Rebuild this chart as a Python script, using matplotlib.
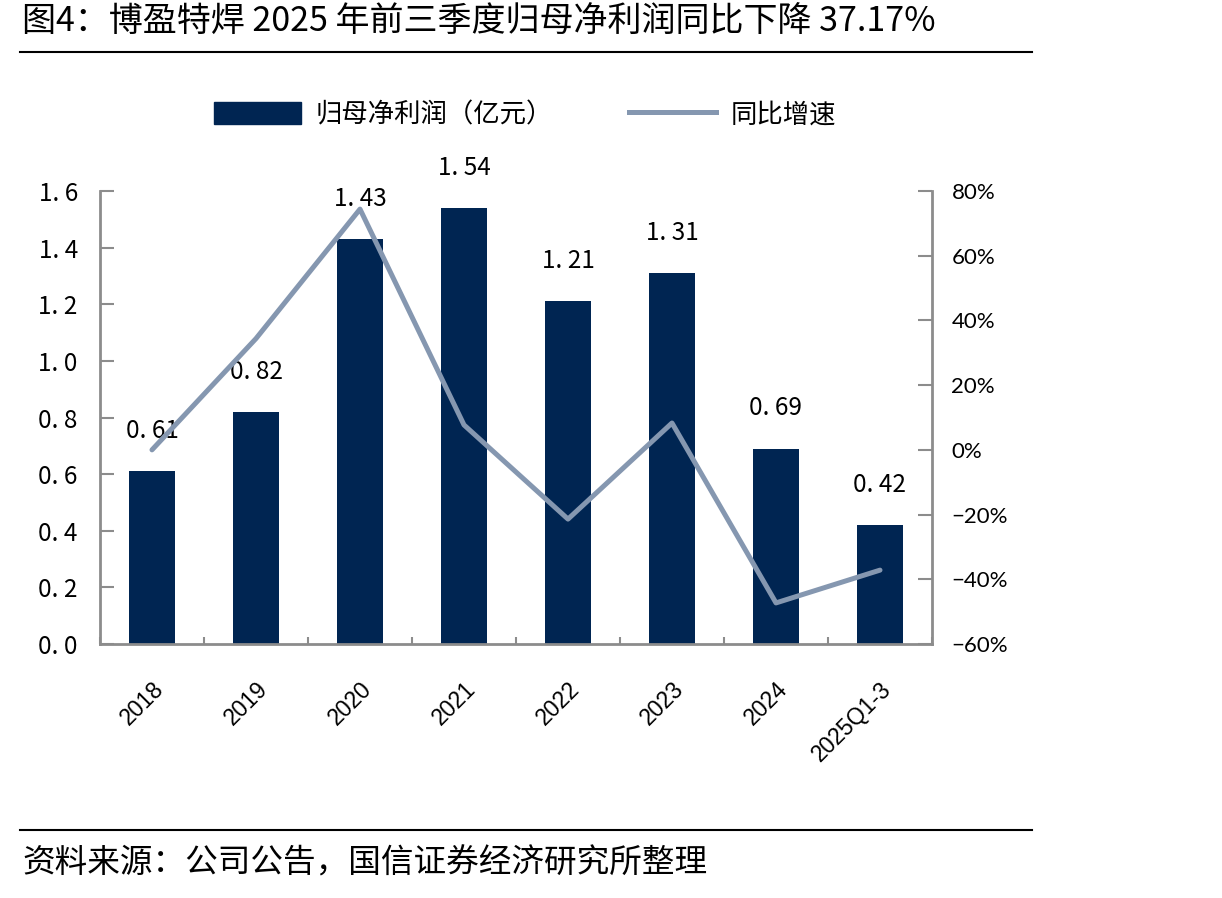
import matplotlib
matplotlib.use("Agg")
import matplotlib.pyplot as plt
from matplotlib.ticker import FuncFormatter, FixedLocator
from matplotlib.lines import Line2D
from matplotlib.patches import Patch

plt.rcParams['font.family'] = ['Noto Sans CJK SC', 'DejaVu Sans']
plt.rcParams['axes.unicode_minus'] = True

categories = ['2018', '2019', '2020', '2021', '2022', '2023', '2024', '2025Q1-3']
profit = [0.61, 0.82, 1.43, 1.54, 1.21, 1.31, 0.69, 0.42]
growth = [0.00, 0.344, 0.744, 0.077, -0.214, 0.083, -0.473, -0.3717]
left_ticks = [0.0, 0.2, 0.4, 0.6, 0.8, 1.0, 1.2, 1.4, 1.6]
right_ticks = [-0.6, -0.4, -0.2, 0.0, 0.2, 0.4, 0.6, 0.8]

bar_color = '#002552'
line_color = '#8597b0'
spine_color = '#8c8c8c'

W, H = 1222, 898
fig = plt.figure(figsize=(W / 100, H / 100), dpi=100)

ax = fig.add_axes([100 / W, 1 - 644 / H, 832 / W, 453 / H])
x = list(range(len(categories)))
ax.bar(x, profit, width=0.44, color=bar_color, zorder=2)
ax.set_xlim(-0.5, len(categories) - 0.5)
ax.set_ylim(0, 1.6)
ax.yaxis.set_major_locator(FixedLocator(left_ticks))
ax.yaxis.set_major_formatter(FuncFormatter(lambda v, p: f"{v:.1f}".replace('.', '. ')))
ax.set_xticks(x)
ax.set_xticklabels(categories, rotation=45, ha='right', rotation_mode='anchor',
                   fontsize=16.5, family=['Liberation Sans', 'DejaVu Sans'])
ax.set_xticks([i + 0.5 for i in range(-1, len(categories))], minor=True)
ax.tick_params(axis='x', which='major', length=0, pad=24)
ax.tick_params(axis='x', which='minor', length=5, direction='in', color=spine_color, width=1.5)
ax.tick_params(axis='y', length=10, direction='in', color=spine_color, width=1.5,
               labelsize=17.5, pad=16)
for s in ['top', 'right']:
    ax.spines[s].set_visible(False)
for s in ['left', 'bottom']:
    ax.spines[s].set_color(spine_color)
    ax.spines[s].set_linewidth(2)

for xi, v in zip(x, profit):
    ax.annotate(f"{v:.2f}".replace('.', '. '), (xi, v), xytext=(0, 29),
                textcoords='offset points', ha='center', va='center',
                fontsize=17.5, zorder=5)

ax2 = ax.twinx()
ax2.plot(x, growth, color=line_color, linewidth=3.6, zorder=3, solid_capstyle='round')
ax2.set_ylim(-0.6, 0.8)
ax2.yaxis.set_major_locator(FixedLocator(right_ticks))
ax2.yaxis.set_major_formatter(FuncFormatter(lambda v, p: f"{v*100:.0f}%".replace('-', '\u2212')))
ax2.tick_params(axis='y', length=10, direction='in', color=spine_color, width=1.5,
                labelsize=16, pad=14)
for lbl in ax2.get_yticklabels():
    lbl.set_family(['Lato', 'DejaVu Sans'])
for s in ['top', 'left', 'bottom']:
    ax2.spines[s].set_visible(False)
ax2.spines['right'].set_color(spine_color)
ax2.spines['right'].set_linewidth(2)
ax2.patch.set_visible(False)

handles = [Patch(facecolor=bar_color, edgecolor=bar_color),
           Line2D([0], [0], color=line_color, linewidth=3.6)]
fig.legend(handles, ['归母净利润（亿元）', '同比增速'], loc='center',
           bbox_to_anchor=(525 / W, 1 - 115 / H), ncol=2, frameon=False,
           fontsize=19, handlelength=3.3, handleheight=0.9, columnspacing=2.9,
           handletextpad=0.55)

fig.text(22 / W, 1 - 22 / H, '图4：博盈特焊 2025 年前三季度归母净利润同比下降 37.17%',
         fontsize=24.5, ha='left', va='center')
fig.add_artist(Line2D([20 / W, 1032 / W], [1 - 52 / H, 1 - 52 / H], color='black', linewidth=1.5))
fig.add_artist(Line2D([20 / W, 1032 / W], [1 - 830 / H, 1 - 830 / H], color='black', linewidth=1.5))
fig.text(22 / W, 1 - 864 / H, '资料来源：公司公告，国信证券经济研究所整理',
         fontsize=23.5, ha='left', va='center')

fig.savefig('out.png', dpi=100, facecolor='white')
